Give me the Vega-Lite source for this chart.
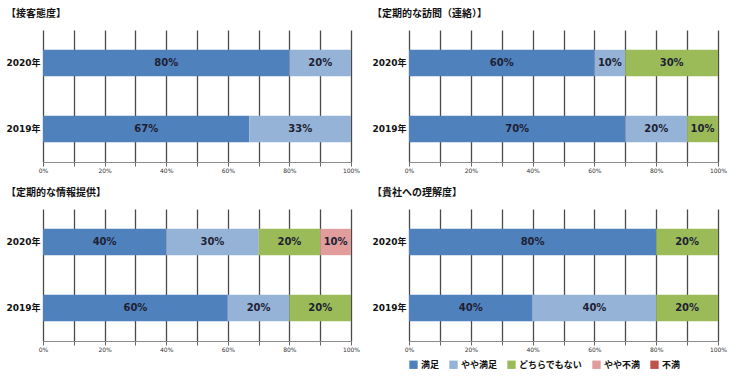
{
  "$schema": "https://vega.github.io/schema/vega-lite/v6.json",
  "padding": {"left": 5, "top": 9, "right": 5, "bottom": 5},
  "background": "white",
  "config": {
    "view": {"stroke": null},
    "title": {"font": "Noto Sans CJK JP", "fontWeight": "bold", "fontSize": 10, "color": "#111", "anchor": "start", "frame": "bounds", "offset": 11},
    "axisY": {"domain": false, "ticks": false, "labelPadding": 3, "labelFont": "DejaVu Sans, Noto Sans CJK JP", "labelFontWeight": "bold", "labelFontSize": 9, "labelColor": "#111", "title": null},
    "axisX": {"values": [0, 0.1, 0.2, 0.3, 0.4, 0.5, 0.6, 0.7, 0.8, 0.9, 1], "format": ".0%", "labelExpr": "round(datum.value*10)%2==0 ? datum.label : ''", "labelOverlap": false, "labelFlush": false, "grid": true, "gridColor": "#4a4a4a", "gridWidth": 1.3, "domainColor": "#8c8c8c", "tickColor": "#666", "tickSize": 4, "labelFontSize": 6, "labelFont": "DejaVu Sans", "labelColor": "#333", "labelPadding": 1, "title": null}
  },
  "data": {"values": [
    {"panel": "接客態度", "year": "2020年", "cat": "満足", "ord": 1, "value": 0.8},
    {"panel": "接客態度", "year": "2020年", "cat": "やや満足", "ord": 2, "value": 0.2},
    {"panel": "接客態度", "year": "2019年", "cat": "満足", "ord": 1, "value": 0.67},
    {"panel": "接客態度", "year": "2019年", "cat": "やや満足", "ord": 2, "value": 0.33},
    {"panel": "定期的な訪問", "year": "2020年", "cat": "満足", "ord": 1, "value": 0.6},
    {"panel": "定期的な訪問", "year": "2020年", "cat": "やや満足", "ord": 2, "value": 0.1},
    {"panel": "定期的な訪問", "year": "2020年", "cat": "どちらでもない", "ord": 3, "value": 0.3},
    {"panel": "定期的な訪問", "year": "2019年", "cat": "満足", "ord": 1, "value": 0.7},
    {"panel": "定期的な訪問", "year": "2019年", "cat": "やや満足", "ord": 2, "value": 0.2},
    {"panel": "定期的な訪問", "year": "2019年", "cat": "どちらでもない", "ord": 3, "value": 0.1},
    {"panel": "定期的な情報提供", "year": "2020年", "cat": "満足", "ord": 1, "value": 0.4},
    {"panel": "定期的な情報提供", "year": "2020年", "cat": "やや満足", "ord": 2, "value": 0.3},
    {"panel": "定期的な情報提供", "year": "2020年", "cat": "どちらでもない", "ord": 3, "value": 0.2},
    {"panel": "定期的な情報提供", "year": "2020年", "cat": "やや不満", "ord": 4, "value": 0.1},
    {"panel": "定期的な情報提供", "year": "2019年", "cat": "満足", "ord": 1, "value": 0.6},
    {"panel": "定期的な情報提供", "year": "2019年", "cat": "やや満足", "ord": 2, "value": 0.2},
    {"panel": "定期的な情報提供", "year": "2019年", "cat": "どちらでもない", "ord": 3, "value": 0.2},
    {"panel": "貴社への理解度", "year": "2020年", "cat": "満足", "ord": 1, "value": 0.8},
    {"panel": "貴社への理解度", "year": "2020年", "cat": "どちらでもない", "ord": 3, "value": 0.2},
    {"panel": "貴社への理解度", "year": "2019年", "cat": "満足", "ord": 1, "value": 0.4},
    {"panel": "貴社への理解度", "year": "2019年", "cat": "やや満足", "ord": 2, "value": 0.4},
    {"panel": "貴社への理解度", "year": "2019年", "cat": "どちらでもない", "ord": 3, "value": 0.2}
  ]},
  "spacing": 15,
  "resolve": {"scale": {"color": "independent"}, "legend": {"color": "independent"}},
  "vconcat": [
    {
      "spacing": 11,
      "resolve": {"scale": {"color": "independent"}, "legend": {"color": "independent"}},
      "hconcat": [
        {
          "width": 308, "height": 132,
          "title": "【接客態度】",
          "transform": [{"filter": {"field": "panel", "equal": "接客態度"}}],
          "encoding": {
            "y": {"field": "year", "type": "nominal", "sort": ["2020年", "2019年"], "scale": {"paddingInner": 0.6, "paddingOuter": 0.3}},
            "order": {"field": "ord", "type": "quantitative"}
          },
          "layer": [
            {"mark": {"type": "bar"}, "encoding": {
              "x": {"field": "value", "type": "quantitative", "stack": "zero", "scale": {"domain": [0, 1]}},
              "color": {"field": "cat", "type": "nominal", "scale": {"domain": ["満足", "やや満足", "どちらでもない", "やや不満", "不満"], "range": ["#4F81BD", "#95B3D7", "#9BBB59", "#E19C9C", "#C0504D"]}, "legend": null}}},
            {"mark": {"type": "text", "font": "DejaVu Sans", "fontWeight": "bold", "fontSize": 10, "color": "#1f1f33"}, "encoding": {
              "x": {"field": "value", "type": "quantitative", "stack": "zero", "bandPosition": 0.5},
              "detail": {"field": "cat"},
              "text": {"field": "value", "type": "quantitative", "format": ".0%"}}}
          ]
        },
        {
          "width": 309, "height": 132,
          "title": "【定期的な訪問（連絡）】",
          "transform": [{"filter": {"field": "panel", "equal": "定期的な訪問"}}],
          "encoding": {
            "y": {"field": "year", "type": "nominal", "sort": ["2020年", "2019年"], "scale": {"paddingInner": 0.6, "paddingOuter": 0.3}},
            "order": {"field": "ord", "type": "quantitative"}
          },
          "layer": [
            {"mark": {"type": "bar"}, "encoding": {
              "x": {"field": "value", "type": "quantitative", "stack": "zero", "scale": {"domain": [0, 1]}},
              "color": {"field": "cat", "type": "nominal", "scale": {"domain": ["満足", "やや満足", "どちらでもない", "やや不満", "不満"], "range": ["#4F81BD", "#95B3D7", "#9BBB59", "#E19C9C", "#C0504D"]}, "legend": null}}},
            {"mark": {"type": "text", "font": "DejaVu Sans", "fontWeight": "bold", "fontSize": 10, "color": "#1f1f33"}, "encoding": {
              "x": {"field": "value", "type": "quantitative", "stack": "zero", "bandPosition": 0.5},
              "detail": {"field": "cat"},
              "text": {"field": "value", "type": "quantitative", "format": ".0%"}}}
          ]
        }
      ]
    },
    {
      "spacing": 11,
      "resolve": {"scale": {"color": "independent"}, "legend": {"color": "independent"}},
      "hconcat": [
        {
          "width": 308, "height": 132,
          "title": "【定期的な情報提供】",
          "transform": [{"filter": {"field": "panel", "equal": "定期的な情報提供"}}],
          "encoding": {
            "y": {"field": "year", "type": "nominal", "sort": ["2020年", "2019年"], "scale": {"paddingInner": 0.6, "paddingOuter": 0.3}},
            "order": {"field": "ord", "type": "quantitative"}
          },
          "layer": [
            {"mark": {"type": "bar"}, "encoding": {
              "x": {"field": "value", "type": "quantitative", "stack": "zero", "scale": {"domain": [0, 1]}},
              "color": {"field": "cat", "type": "nominal", "scale": {"domain": ["満足", "やや満足", "どちらでもない", "やや不満", "不満"], "range": ["#4F81BD", "#95B3D7", "#9BBB59", "#E19C9C", "#C0504D"]}, "legend": null}}},
            {"mark": {"type": "text", "font": "DejaVu Sans", "fontWeight": "bold", "fontSize": 10, "color": "#1f1f33"}, "encoding": {
              "x": {"field": "value", "type": "quantitative", "stack": "zero", "bandPosition": 0.5},
              "detail": {"field": "cat"},
              "text": {"field": "value", "type": "quantitative", "format": ".0%"}}}
          ]
        },
        {
          "width": 309, "height": 132,
          "title": "【貴社への理解度】",
          "transform": [{"filter": {"field": "panel", "equal": "貴社への理解度"}}],
          "encoding": {
            "y": {"field": "year", "type": "nominal", "sort": ["2020年", "2019年"], "scale": {"paddingInner": 0.6, "paddingOuter": 0.3}},
            "order": {"field": "ord", "type": "quantitative"}
          },
          "layer": [
            {"mark": {"type": "bar"}, "encoding": {
              "x": {"field": "value", "type": "quantitative", "stack": "zero", "scale": {"domain": [0, 1]}},
              "color": {"field": "cat", "type": "nominal", "scale": {"domain": ["満足", "やや満足", "どちらでもない", "やや不満", "不満"], "range": ["#4F81BD", "#95B3D7", "#9BBB59", "#E19C9C", "#C0504D"]}, "legend": {"orient": "bottom", "direction": "horizontal", "title": null, "symbolType": "square", "symbolSize": 70, "symbolStrokeWidth": 0, "symbolOpacity": 1, "labelFont": "Noto Sans CJK JP", "labelFontWeight": "bold", "labelFontSize": 9, "labelColor": "#111", "labelOffset": 3, "columnPadding": 9, "offset": 8}}}},
            {"mark": {"type": "text", "font": "DejaVu Sans", "fontWeight": "bold", "fontSize": 10, "color": "#1f1f33"}, "encoding": {
              "x": {"field": "value", "type": "quantitative", "stack": "zero", "bandPosition": 0.5},
              "detail": {"field": "cat"},
              "text": {"field": "value", "type": "quantitative", "format": ".0%"}}}
          ]
        }
      ]
    }
  ]
}
